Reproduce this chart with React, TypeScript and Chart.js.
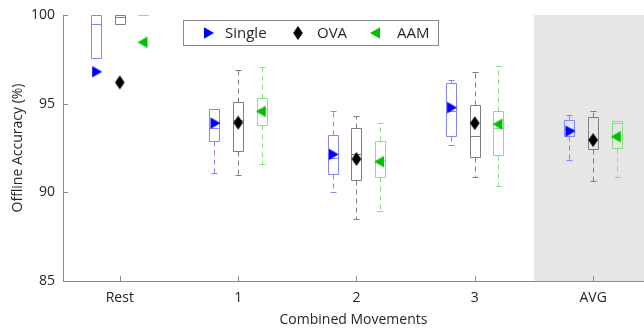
import React, { useEffect, useRef } from 'react';
import { Chart, registerables } from 'chart.js';

Chart.register(...registerables);

// ---------------- data ----------------
const categories = ['Rest', '1', '2', '3', 'AVG'];
const seriesNames = ['Single', 'OVA', 'AAM'];
const yTicks = [85, 90, 95, 100];

// [min, q1, median, q3, max] per category
const singleStats = [
  [97.6, 97.6, 99.5, 100, 100],
  [91.07, 92.88, 93.62, 94.69, 94.69],
  [90.0, 91.03, 91.95, 93.25, 94.6],
  [92.67, 93.2, 94.61, 96.16, 96.35],
  [91.8, 93.18, 93.56, 94.1, 94.35],
];
const ovaStats = [
  [99.5, 99.5, 99.9, 100, 100],
  [91.0, 92.33, 94.07, 95.12, 96.92],
  [88.5, 90.69, 92.14, 93.62, 94.31],
  [90.86, 92.01, 93.18, 94.9, 96.79],
  [90.65, 92.43, 92.95, 94.24, 94.6],
];
const aamStats = [
  [100, 100, 100, 100, 100],
  [91.58, 93.82, 94.71, 95.31, 97.05],
  [88.95, 90.88, 91.82, 92.9, 93.93],
  [90.33, 92.1, 93.65, 94.61, 97.12],
  [90.84, 92.48, 93.9, 94.05, 94.05],
];
const singleMeans = [96.8, 93.9, 92.14, 94.78, 93.45];
const ovaMeans = [96.2, 93.93, 91.88, 93.9, 92.95];
const aamMeans = [98.46, 94.56, 91.73, 93.84, 93.14];

// ---------------- style ----------------
const FONT = '"Open Sans", "DejaVu Sans", sans-serif';
const TXT = '#262626';
const AXIS = '#8a8a8a';
const SHADE = '#e6e6e6';
const OFFSETS = [-0.2, 0, 0.2];
const BOX_W = 0.1;
const CAP_HALF = 3;

const SERIES = [
  { name: seriesNames[0], stats: singleStats, means: singleMeans, box: '#8585ff', mark: '#0000ff', shape: 'right' },
  { name: seriesNames[1], stats: ovaStats, means: ovaMeans, box: '#7f7f7f', mark: '#000000', shape: 'diamond' },
  { name: seriesNames[2], stats: aamStats, means: aamMeans, box: '#85e085', mark: '#00c000', shape: 'left' },
];

function drawMarker(ctx: CanvasRenderingContext2D, shape: string, color: string, x: number, y: number) {
  ctx.save();
  ctx.fillStyle = color;
  ctx.beginPath();
  if (shape === 'diamond') {
    ctx.moveTo(x, y - 7);
    ctx.lineTo(x + 4.8, y);
    ctx.lineTo(x, y + 7);
    ctx.lineTo(x - 4.8, y);
  } else if (shape === 'right') {
    ctx.moveTo(x - 4, y - 5.8);
    ctx.lineTo(x + 6, y);
    ctx.lineTo(x - 4, y + 5.8);
  } else {
    ctx.moveTo(x + 4, y - 5.8);
    ctx.lineTo(x - 6, y);
    ctx.lineTo(x + 4, y + 5.8);
  }
  ctx.closePath();
  ctx.fill();
  ctx.restore();
}

function markerCanvas(shape: string, color: string) {
  const c = document.createElement('canvas');
  c.width = 14;
  c.height = 16;
  const g = c.getContext('2d') as CanvasRenderingContext2D;
  drawMarker(g, shape, color, 7, 8);
  return c;
}

const shadePlugin = {
  id: 'shade',
  beforeDraw(chart: any) {
    const { ctx, chartArea, scales } = chart;
    const x0 = scales.x.getPixelForValue(3.5);
    ctx.save();
    ctx.fillStyle = SHADE;
    ctx.fillRect(x0, chartArea.top, chartArea.right - x0, chartArea.bottom - chartArea.top);
    ctx.restore();
  },
};

const ticksPlugin = {
  id: 'inTicks',
  afterDraw(chart: any) {
    const { ctx, chartArea, scales } = chart;
    ctx.save();
    ctx.strokeStyle = AXIS;
    ctx.lineWidth = 1;
    ctx.beginPath();
    yTicks.forEach((v) => {
      const py = Math.round(scales.y.getPixelForValue(v)) + 0.5;
      ctx.moveTo(chartArea.left, py);
      ctx.lineTo(chartArea.left + 5, py);
    });
    categories.forEach((_, i) => {
      const px = Math.round(scales.x.getPixelForValue(i)) + 0.5;
      ctx.moveTo(px, chartArea.bottom);
      ctx.lineTo(px, chartArea.bottom - 5);
    });
    ctx.stroke();
    ctx.restore();
  },
};

const boxPlugin = {
  id: 'boxes',
  beforeDatasetsDraw(chart: any) {
    const { ctx, scales } = chart;
    const xs = scales.x;
    const ys = scales.y;
    const half = (xs.getPixelForValue(BOX_W) - xs.getPixelForValue(0)) / 2;
    SERIES.forEach((s, si) => {
      s.stats.forEach((st, ci) => {
        const cx = Math.round(xs.getPixelForValue(ci + OFFSETS[si])) + 0.5;
        const [mn, q1, md, q3, mx] = st.map((v) => Math.round(ys.getPixelForValue(v)) + 0.5);
        const l = Math.round(cx - half) + 0.5;
        const r = Math.round(cx + half) - 0.5;
        ctx.save();
        ctx.strokeStyle = s.box;
        ctx.lineWidth = 1;
        ctx.setLineDash([5, 4]);
        ctx.beginPath();
        if (mx < q3) { ctx.moveTo(cx, q3); ctx.lineTo(cx, mx); }
        if (mn > q1) { ctx.moveTo(cx, q1); ctx.lineTo(cx, mn); }
        ctx.stroke();
        ctx.setLineDash([]);
        ctx.beginPath();
        ctx.moveTo(cx - CAP_HALF, mx); ctx.lineTo(cx + CAP_HALF, mx);
        ctx.moveTo(cx - CAP_HALF, mn); ctx.lineTo(cx + CAP_HALF, mn);
        ctx.stroke();
        ctx.beginPath();
        ctx.rect(l, q3, r - l, q1 - q3);
        ctx.moveTo(l, md); ctx.lineTo(r, md);
        ctx.stroke();
        ctx.restore();
      });
    });
  },
};

const legendPlugin = {
  id: 'boxLegend',
  afterDraw(chart: any) {
    const { ctx } = chart;
    ctx.save();
    ctx.fillStyle = '#ffffff';
    ctx.fillRect(183.5, 20.5, 255, 25);
    ctx.strokeStyle = '#8a8a8a';
    ctx.lineWidth = 1;
    ctx.strokeRect(183.5, 20.5, 255, 25);
    const markX = [208, 298, 376];
    const textX = [225, 317, 397];
    ctx.font = `15px ${FONT}`;
    ctx.fillStyle = TXT;
    ctx.textBaseline = 'middle';
    ctx.textAlign = 'left';
    SERIES.forEach((s, i) => {
      drawMarker(ctx, s.shape, s.mark, markX[i], 33);
      ctx.fillStyle = TXT;
      ctx.fillText(s.name, textX[i], 34);
    });
    ctx.restore();
  },
};

export default function App() {
  const ref = useRef<HTMLCanvasElement | null>(null);

  useEffect(() => {
    if (!ref.current) return;
    const datasets = SERIES.map((s, si) => ({
      type: 'scatter' as const,
      label: s.name,
      data: s.means.map((v, i) => ({ x: i + OFFSETS[si], y: v })),
      pointStyle: markerCanvas(s.shape, s.mark),
      pointRadius: 7,
      clip: false as any,
    }));
    const chart = new Chart(ref.current, {
      type: 'scatter',
      data: { datasets },
      options: {
        animation: false,
        responsive: false,
        maintainAspectRatio: false,
        layout: { autoPadding: false, padding: { top: 15, right: 0, left: 0, bottom: 0 } },
        plugins: { legend: { display: false }, tooltip: { enabled: false } },
        scales: {
          x: {
            type: 'linear',
            min: -0.48,
            max: 4.43,
            grid: { display: false, drawTicks: false },
            border: { display: true, color: AXIS },
            afterBuildTicks: (s: any) => {
              s.ticks = categories.map((_, i) => ({ value: i }));
            },
            afterFit: (s: any) => {
              s.height = 50;
              s.paddingLeft = 0;
              s.paddingRight = 0;
            },
            ticks: {
              autoSkip: false,
              maxRotation: 0,
              padding: 9,
              color: TXT,
              font: { family: FONT, size: 14 },
              callback: (v: any) => categories[v as number] ?? '',
            },
            title: {
              display: true,
              text: 'Combined Movements',
              color: TXT,
              font: { family: FONT, size: 14 },
              padding: { top: 3, bottom: 3 },
            },
          },
          y: {
            min: 85,
            max: 100,
            grid: { display: false, drawTicks: false },
            border: { display: true, color: AXIS },
            afterBuildTicks: (s: any) => {
              s.ticks = yTicks.map((v) => ({ value: v }));
            },
            afterFit: (s: any) => {
              s.width = 63;
              s.paddingTop = 0;
              s.paddingBottom = 0;
            },
            ticks: {
              padding: 8,
              color: TXT,
              font: { family: FONT, size: 14 },
            },
            title: {
              display: true,
              text: 'Offline Accuracy (%)',
              color: TXT,
              font: { family: FONT, size: 14 },
              padding: { top: 10, bottom: 0 },
            },
          },
        },
      },
      plugins: [shadePlugin, boxPlugin, ticksPlugin, legendPlugin],
    });
    return () => chart.destroy();
  }, []);

  return (
    <div style={{ position: 'absolute', left: 0, top: 0, width: 644, height: 331, background: '#fff' }}>
      <canvas ref={ref} width={644} height={331} style={{ display: 'block' }} />
    </div>
  );
}
